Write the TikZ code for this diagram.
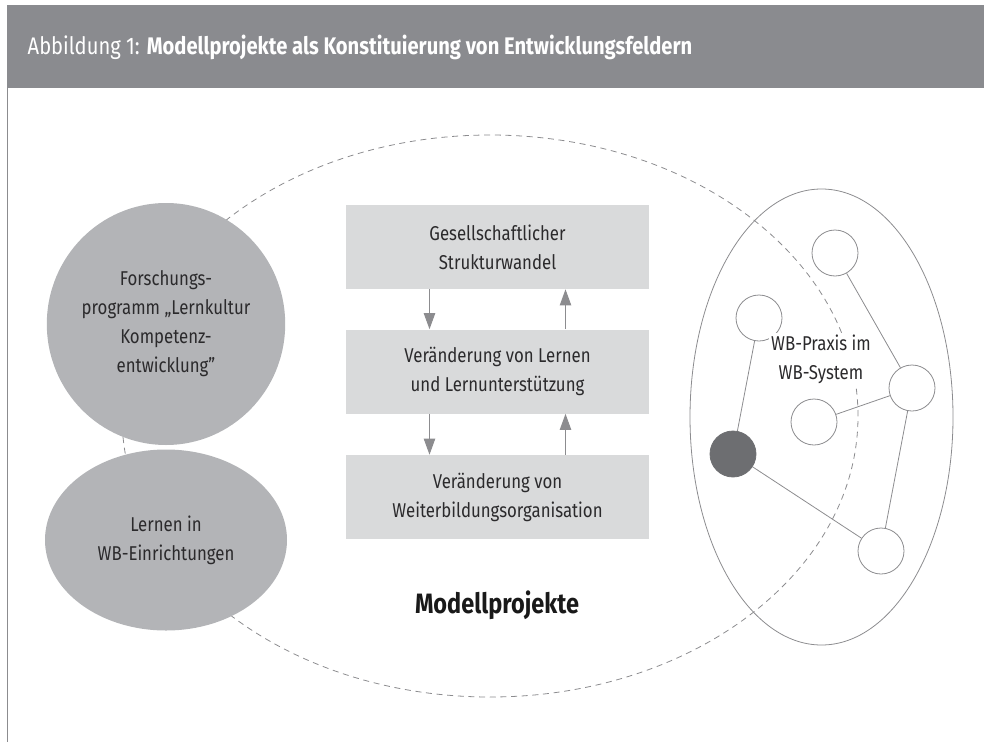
\documentclass[tikz,border=0pt]{standalone}
\usepackage{fontspec}
\setmainfont{Fira Sans}[FakeStretch=0.84]
\usetikzlibrary{arrows.meta,shapes.geometric}

\definecolor{bandgray}{HTML}{8A8B8F}
\definecolor{blobgray}{HTML}{B3B4B7}
\definecolor{boxgray}{HTML}{D9DADB}
\definecolor{linegray}{HTML}{8C8C8F}
\definecolor{darkdot}{HTML}{6D6E71}
\definecolor{inkgray}{HTML}{2B2A2C}

\begin{document}
\begin{tikzpicture}[x=0.75pt, y=-0.75pt,
    every node/.style={text=inkgray, font=\fontsize{15}{21.75}\selectfont},
    blob/.style={ellipse, fill=blobgray, inner sep=0pt, align=center},
    stagebox/.style={rectangle, fill=boxgray, minimum width=227.25pt, minimum height=63pt, inner sep=0pt, align=center},
    praxisdot/.style={circle, draw=linegray, line width=0.6pt, fill=white, minimum size=34.5pt, inner sep=0pt},
    flow/.style={draw=linegray, line width=0.8pt, -{Triangle[length=12pt, width=8.5pt]}, color=linegray},
    link/.style={draw=linegray, line width=0.6pt}]
  \useasboundingbox (0,0) rectangle (984,742);

  % header band
  \fill[bandgray] (7,5) rectangle (984,88);
  \draw[linegray, line width=0.8pt] (7.5,88) -- (7.5,742);
  \node[anchor=base west, text=white, font=\fontsize{18}{22}\selectfont] (title) at (23,55)
    {Abbildung 1: \textbf{Modellprojekte als Konstituierung von Entwicklungsfeldern}};

  % field of the model projects
  \node[ellipse, draw=linegray, dashed, dash pattern=on 4.5pt off 3.5pt, line width=0.6pt,
        minimum width=552pt, minimum height=421.5pt, inner sep=0pt] (field) at (490,416) {};
  \node[font=\bfseries\fontsize{21}{24}\selectfont, text=black!90] (label) at (497,605) {Modellprojekte};

  \node[blob, minimum width=159pt, minimum height=181.5pt] (forschung) at (166,324)
    {Forschungs-\\programm „Lernkultur\\Kompetenz-\\entwicklung\symbol{34}};
  \node[blob, minimum width=181.5pt, minimum height=135.75pt] (lernen) at (166,540)
    {Lernen in\\WB-Einrichtungen};

  \node[stagebox] (wandel) at (497.5,247) {Gesellschaftlicher\\Strukturwandel};
  \node[stagebox] (lernunt) at (497.5,371.5) {Veränderung von Lernen\\und Lernunterstützung};
  \node[stagebox] (orga) at (497.5,497) {Veränderung von\\Weiterbildungsorganisation};

  \draw[flow] ([xshift=-51pt]wandel.south) -- ([xshift=-51pt]lernunt.north);
  \draw[flow] ([xshift=51pt]lernunt.north) -- ([xshift=51pt]wandel.south);
  \draw[flow] ([xshift=-51pt]lernunt.south) -- ([xshift=-51pt]orga.north);
  \draw[flow] ([xshift=51pt]orga.north) -- ([xshift=51pt]lernunt.south);

  % WB system
  \node[ellipse, draw=linegray, line width=0.6pt, minimum width=197.25pt, minimum height=342pt, inner sep=0pt] (system) at (821.5,417) {};
  \node[praxisdot] (p1) at (835,253) {};
  \node[praxisdot] (p2) at (759,318) {};
  \node[praxisdot] (p3) at (912,388) {};
  \node[praxisdot] (p4) at (814,422) {};
  \node[praxisdot, fill=darkdot, draw=darkdot] (p5) at (733,454) {};
  \node[praxisdot] (p6) at (881,551) {};
  \draw[link] (p1) -- (p3);
  \draw[link] (p3) -- (p4);
  \draw[link] (p3) -- (p6);
  \draw[link] (p2) -- (p5);
  \draw[link] (p5) -- (p6);
  \node[fill=white, inner sep=1.5pt, align=center] (praxis) at (821,359) {WB-Praxis im\\WB-System};
\end{tikzpicture}
\end{document}
